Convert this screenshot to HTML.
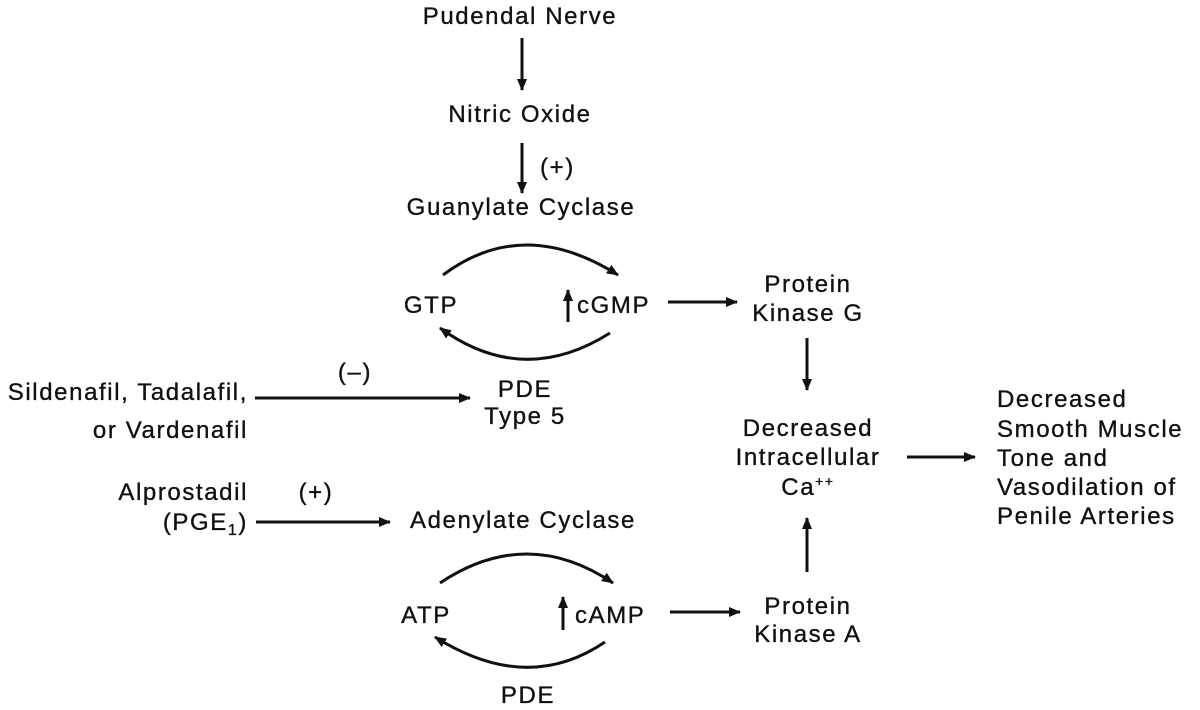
<!DOCTYPE html>
<html><head><meta charset="utf-8">
<style>
html,body{margin:0;padding:0;background:#fff;}
svg{display:block;}
text{font-family:"Liberation Sans",Arial,sans-serif;font-size:24px;fill:#111;letter-spacing:1.6px;stroke:#111;stroke-width:0.35px;}
.c{text-anchor:middle;}
.r{text-anchor:end;}
</style></head><body>
<svg width="1200" height="710" viewBox="0 0 1200 710" xmlns="http://www.w3.org/2000/svg">
<defs>
<marker id="ah" markerWidth="12" markerHeight="10" refX="11" refY="5" orient="auto" markerUnits="userSpaceOnUse">
<path d="M0,0 L12,5 L0,10 Z" fill="#111"/>
</marker>
</defs>
<g stroke="#111" stroke-width="3" fill="none">
<!-- vertical arrows top -->
<line x1="522" y1="38" x2="522" y2="90" marker-end="url(#ah)"/>
<line x1="522" y1="143" x2="522" y2="193" marker-end="url(#ah)"/>
<!-- guanylate cycle -->
<path d="M443,275 Q523,215 618,275" marker-end="url(#ah)"/>
<path d="M610,333 Q523,388 440,328" marker-end="url(#ah)"/>
<line x1="568" y1="322" x2="568" y2="290" marker-end="url(#ah)"/>
<!-- cGMP -> PKG -->
<line x1="668" y1="302" x2="737" y2="302" marker-end="url(#ah)"/>
<!-- sildenafil arrow -->
<line x1="255" y1="398" x2="470" y2="398" marker-end="url(#ah)"/>
<!-- PKG down -->
<line x1="807" y1="338" x2="807" y2="390" marker-end="url(#ah)"/>
<!-- Ca -> effect -->
<line x1="907" y1="457" x2="975" y2="457" marker-end="url(#ah)"/>
<!-- alprostadil arrow -->
<line x1="256" y1="522" x2="390" y2="522" marker-end="url(#ah)"/>
<!-- adenylate cycle -->
<path d="M440,583 Q527,525 613,583" marker-end="url(#ah)"/>
<path d="M605,642 Q527,695 435,637" marker-end="url(#ah)"/>
<line x1="563" y1="630" x2="563" y2="597" marker-end="url(#ah)"/>
<!-- cAMP -> PKA -->
<line x1="670" y1="612" x2="740" y2="612" marker-end="url(#ah)"/>
<!-- PKA up -->
<line x1="807" y1="572" x2="807" y2="518" marker-end="url(#ah)"/>
</g>

<text class="c" x="520" y="24">Pudendal Nerve</text>
<text class="c" x="520" y="122">Nitric Oxide</text>
<text x="540" y="175">(+)</text>
<text class="c" x="521" y="215">Guanylate Cyclase</text>
<text class="c" x="431" y="313">GTP</text>
<text x="577" y="313">cGMP</text>
<text class="c" x="808" y="292">Protein</text>
<text class="c" x="808" y="321">Kinase G</text>
<text class="c" x="355" y="380">(–)</text>
<text class="c" x="525" y="397">PDE</text>
<text class="c" x="525" y="424">Type 5</text>
<text class="r" x="248" y="400">Sildenafil, Tadalafil,</text>
<text class="r" x="248" y="438">or Vardenafil</text>
<text class="c" x="808" y="436">Decreased</text>
<text class="c" x="808" y="465">Intracellular</text>
<text class="c" x="808" y="495">Ca<tspan dy="-9" font-size="14">++</tspan></text>
<text x="997" y="407">Decreased</text>
<text x="997" y="437">Smooth Muscle</text>
<text x="997" y="466">Tone and</text>
<text x="997" y="495">Vasodilation of</text>
<text x="997" y="524">Penile Arteries</text>
<text class="r" x="248" y="500">Alprostadil</text>
<text class="r" x="248" y="530">(PGE<tspan font-size="16" dy="5">1</tspan><tspan dy="-5">)</tspan></text>
<text class="c" x="316" y="500">(+)</text>
<text class="c" x="523" y="528">Adenylate Cyclase</text>
<text class="c" x="426" y="623">ATP</text>
<text x="575" y="623">cAMP</text>
<text class="c" x="808" y="614">Protein</text>
<text class="c" x="808" y="642">Kinase A</text>
<text class="c" x="528" y="703">PDE</text>
</svg>
</body></html>
